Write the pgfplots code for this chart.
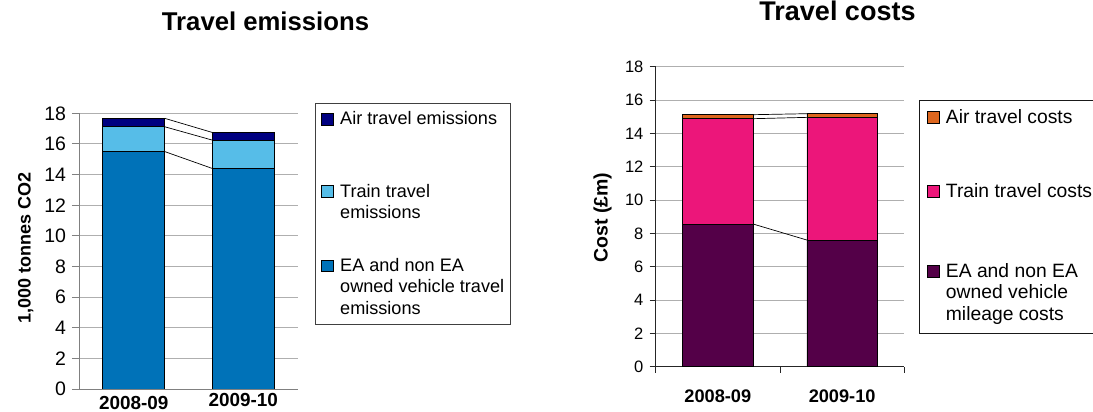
\documentclass[border=0pt]{standalone}
\usepackage{pgfplots}
\pgfplotsset{compat=1.18}
\usepackage{fontspec}
\setmainfont{Liberation Sans}
\definecolor{airE}{RGB}{0,0,128}
\definecolor{trainE}{RGB}{86,189,232}
\definecolor{vehE}{RGB}{0,114,184}
\definecolor{airC}{RGB}{221,102,30}
\definecolor{trainC}{RGB}{236,22,122}
\definecolor{vehC}{RGB}{84,0,72}
\definecolor{gridc}{RGB}{175,175,175}
\definecolor{axL}{RGB}{128,128,128}
\begin{document}
\begin{tikzpicture}
\path[use as bounding box] (0pt,0pt) rectangle (1093pt,412pt);
% ---------------- Left: emissions ----------------
\begin{axis}[
  at={(79pt,23pt)}, anchor=south west,
  scale only axis, width=219pt, height=275.7pt,
  xmin=-0.5, xmax=1.5, ymin=0, ymax=18,
  ybar stacked, bar width=62pt,
  xtick={0,1}, xticklabels={\raisebox{-1.5pt}{2008-09},\raisebox{1.5pt}{2009-10}},
  ytick={0,2,...,18},
  axis x line*=bottom, axis y line*=left,
  axis line style={draw=axL, line width=0.9pt},
  tick align=outside, major tick length=7pt,
  ytick style={draw=axL, line width=0.9pt},
  xtick style={draw=none},
  ymajorgrids, grid style={draw=gridc, line width=0.9pt},
  /pgf/number format/assume math mode=true,
  yticklabel style={font=\fontsize{19.5}{19.5}\selectfont, xshift=-2.5pt},
  xticklabel style={font=\fontsize{18.9}{18.9}\selectfont\bfseries, anchor=base, yshift=-12.3pt},
  ylabel={1,000 tonnes CO2},
  ylabel style={font=\fontsize{18}{18}\selectfont\bfseries, at={(axis description cs:-0.2429,0.513)}, anchor=center},
  title={Travel emissions},
  every axis title shift=0pt,
  title style={font=\fontsize{25.7}{25.7}\selectfont\bfseries, at={(axis description cs:0.8516,1.2996)}, anchor=base},
  reverse legend,
  legend style={at={(axis description cs:1.0763,1.0363)}, anchor=north west, draw=black!75, line width=0.8pt, inner xsep=6pt, inner ysep=7pt, row sep=0pt, column sep=6pt, font=\fontsize{18.1}{21.6}\selectfont, nodes={inner sep=0pt, text depth={}}, cells={anchor=base west}},
  legend image code/.code={\draw[#1,line width=0.8pt] (0pt,-0.3pt) rectangle (12.3pt,11.4pt);},
]
\addplot[fill=vehE, draw=black, line width=0.7pt] coordinates {(0,15.5) (1,14.4)};
\addlegendentry{\parbox[t][60pt][t]{163.7pt}{\rule{0pt}{14pt}\mbox{EA and non EA}\\\mbox{owned vehicle travel}\\\mbox{emissions}}}
\addplot[fill=trainE, draw=black, line width=0.7pt] coordinates {(0,1.62) (1,1.85)};
\addlegendentry{\parbox[t][74.3pt][t]{163.7pt}{\rule{0pt}{14pt}\mbox{Train travel}\\\mbox{emissions}}}
\addplot[fill=airE, draw=black, line width=0.7pt] coordinates {(0,0.55) (1,0.5)};
\addlegendentry{\parbox[t][72.4pt][t]{163.7pt}{\rule{0pt}{14pt}\mbox{Air travel emissions}}}
\end{axis}
\begin{axis}[at={(79pt,23pt)}, anchor=south west, scale only axis, width=219pt, height=275.7pt,
  xmin=-0.5, xmax=1.5, ymin=0, ymax=18, hide axis]
\addplot[black, line width=0.7pt] coordinates {(0.2831,15.5) (0.7169,14.4)};
\addplot[black, line width=0.7pt] coordinates {(0.2831,17.12) (0.7169,16.25)};
\addplot[black, line width=0.7pt] coordinates {(0.2831,17.67) (0.7169,16.75)};
\end{axis}
% ---------------- Right: costs ----------------
\begin{axis}[
  at={(655.7pt,45.3pt)}, anchor=south west,
  scale only axis, width=248.6pt, height=300pt,
  xmin=-0.5, xmax=1.5, ymin=0, ymax=18,
  ybar stacked, bar width=70.6pt,
  xtick={0,1}, xticklabels={2008-09,2009-10},
  minor xtick={-0.5,0.5,1.5},
  ytick={0,2,...,18},
  axis x line*=bottom, axis y line*=left,
  axis line style={draw=black!85, line width=0.9pt},
  tick align=outside, major tick length=6pt, minor tick length=6pt,
  ytick style={draw=black!85, line width=0.9pt},
  major x tick style={draw=none},
  minor x tick style={draw=black!85, line width=0.9pt},
  ymajorgrids, grid style={draw=gridc, line width=0.9pt},
  /pgf/number format/assume math mode=true,
  yticklabel style={font=\fontsize{16.5}{16.5}\selectfont, xshift=-2.8pt},
  xticklabel style={font=\fontsize{18.2}{18.2}\selectfont\bfseries, anchor=base, yshift=-30pt},
  ylabel={Cost (£m)},
  ylabel style={font=\fontsize{19.5}{19.5}\selectfont\bfseries, at={(axis description cs:-0.214,0.497)}, anchor=center},
  title={Travel costs},
  every axis title shift=0pt,
  title style={font=\fontsize{27}{27}\selectfont\bfseries, at={(axis description cs:0.7313,1.1543)}, anchor=base},
  reverse legend,
  legend style={at={(axis description cs:1.0604,0.889)}, anchor=north west, draw=black!90, line width=0.8pt, inner xsep=7.4pt, inner ysep=8.7pt, row sep=0pt, column sep=5.7pt, font=\fontsize{19.3}{21.7}\selectfont, nodes={inner sep=0pt, text depth={}}, cells={anchor=base west}},
  legend image code/.code={\draw[#1,line width=0.8pt] (0pt,-0.3pt) rectangle (12.3pt,11.4pt);},
]
\addplot[fill=vehC, draw=black, line width=0.7pt] coordinates {(0,8.56) (1,7.6)};
\addlegendentry{\parbox[t][61.3pt][t]{140.1pt}{\rule{0pt}{14pt}\mbox{EA and non EA}\\\mbox{owned vehicle}\\\mbox{mileage costs}}}
\addplot[fill=trainC, draw=black, line width=0.7pt] coordinates {(0,6.32) (1,7.36)};
\addlegendentry{\parbox[t][80pt][t]{140.1pt}{\rule{0pt}{14pt}\mbox{Train travel costs}}}
\addplot[fill=airC, draw=black, line width=0.7pt] coordinates {(0,0.24) (1,0.22)};
\addlegendentry{\parbox[t][74pt][t]{140.1pt}{\rule{0pt}{14pt}\mbox{Air travel costs}}}
\end{axis}
\begin{axis}[at={(655.7pt,45.3pt)}, anchor=south west, scale only axis, width=248.6pt, height=300pt,
  xmin=-0.5, xmax=1.5, ymin=0, ymax=18, hide axis]
\addplot[black, line width=0.7pt] coordinates {(0.284,8.56) (0.716,7.6)};
\addplot[black, line width=0.7pt] coordinates {(0.284,14.88) (0.716,14.96)};
\addplot[black, line width=0.7pt] coordinates {(0.284,15.12) (0.716,15.18)};
\end{axis}
\end{tikzpicture}
\end{document}
